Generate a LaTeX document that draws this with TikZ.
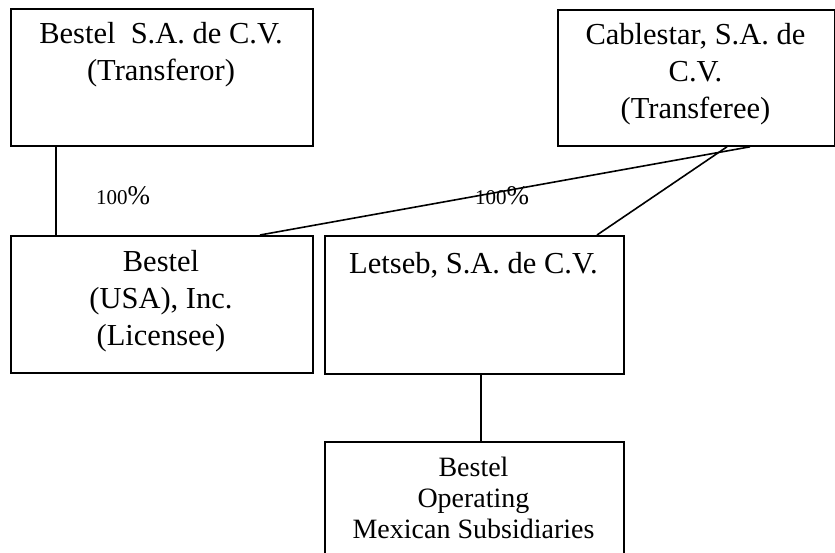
\documentclass[tikz,border=0pt]{standalone}
\usepackage{fontspec}
\setmainfont{Liberation Serif}
\begin{document}
\begin{tikzpicture}[x=1pt,y=-1pt,
  box/.style={draw, line width=1.8pt, rectangle, inner sep=0pt, anchor=north west},
  txt/.style={inner sep=0pt, anchor=north, align=center, font=\fontsize{30.5}{37}\selectfont},
  txts/.style={inner sep=0pt, anchor=north, align=center, font=\fontsize{28}{31}\selectfont},
  conn/.style={line width=1.6pt},
  pct/.style={inner sep=0pt}]
\useasboundingbox (0,0) rectangle (835,552);
% boxes
\node[box, minimum width=302pt, minimum height=137pt] (A) at (10,8) {};
\node[box, minimum width=277pt, minimum height=136pt] (B) at (557,9) {};
\node[box, minimum width=302pt, minimum height=137pt] (C) at (10,235) {};
\node[box, minimum width=299pt, minimum height=138pt] (D) at (324,235) {};
\node[box, minimum width=299pt, minimum height=113pt] (E) at (324,441) {};
% texts
\node[txt] (At) at (161,22) {Bestel\ \ S.A. de C.V.\\(Transferor)};
\node[txt] (Bt) at (695.5,23) {Cablestar, S.A. de\\C.V.\\(Transferee)};
\node[txt] (Ct) at (161,250) {Bestel\\(USA), Inc.\\(Licensee)};
\node[txt] (Dt) at (473.5,252) {Letseb, S.A. de C.V.};
\node[txts] (Et) at (473.5,457) {Bestel\\Operating\\Mexican Subsidiaries};
% connectors
\draw[conn] ([xshift=46pt]A.south west) -- ([xshift=46pt]C.north west);
\draw[conn] ([xshift=193pt]B.south west) -- ([xshift=250pt]C.north west);
\draw[conn] ([xshift=170pt]B.south west) -- ([xshift=273pt]D.north west);
\draw[conn] ([xshift=157pt]D.south west) -- ([xshift=157pt]E.north west);
% labels
\node[pct] (p1) at (123,196) {{\fontsize{21}{21}\selectfont 100}{\fontsize{27}{27}\selectfont\%}};
\node[pct] (p2) at (502,196) {{\fontsize{21}{21}\selectfont 100}{\fontsize{27}{27}\selectfont\%}};
\end{tikzpicture}
\end{document}
